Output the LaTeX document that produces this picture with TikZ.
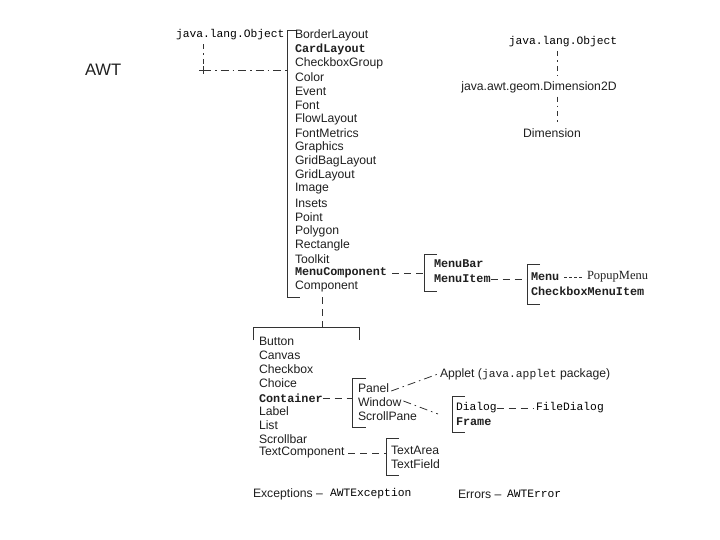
\documentclass[tikz,border=0pt]{standalone}
\usepackage{fontspec}
\setmainfont{Liberation Sans}
\newfontfamily\monof{Liberation Mono}
\newfontfamily\seriff{Liberation Serif}
\begin{document}
\begin{tikzpicture}[x=1pt,y=-1pt,
  every node/.style={inner sep=0pt,outer sep=0pt,text=black!88},
  sans/.style={anchor=west,font=\fontsize{12.2}{14}\selectfont},
  mono/.style={anchor=west,font=\fontsize{11.3}{13}\monof,text=black},
  monob/.style={anchor=west,font=\fontsize{11.8}{13}\monof\bfseries},
  brk/.style={draw=black!80,line width=0.8pt},
  conn/.style={draw=black!80,line width=0.8pt,dash pattern=on 7pt off 5pt},
  conndot/.style={draw=black!80,line width=0.8pt,dash pattern=on 8pt off 4pt on 1.5pt off 4pt},
  vdot/.style={draw=black!80,line width=0.8pt,dash pattern=on 5pt off 4pt on 1.5pt off 4pt},
  shortd/.style={draw=black!80,line width=0.8pt,dash pattern=on 3pt off 2pt}]
\useasboundingbox (0,0) rectangle (720,540);

\node[anchor=west,font=\fontsize{16.6}{18}\selectfont] (awt) at (85,70) {AWT};

% top-left tree
\node[mono] (obj1) at (176,35) {java.lang.Object};
\coordinate (j1) at (203,70);
\coordinate (b1t) at (287,30);
\coordinate (b1b) at (287,297);
\draw[brk] (297,30) -- (b1t) -- (b1b) -- (300,297);
\draw[vdot] ([yshift=-4pt]obj1.south -| j1) -- (j1);
\draw[conndot] (j1) -- (j1 -| b1t);
\draw[black!80,line width=0.8pt] (199,70) -- (207,70) (203,66) -- (203,74);

\foreach \t/\y/\n in {BorderLayout/35/a1,CheckboxGroup/63/a3,Color/77/a4,Event/91/a5,Font/105/a6,FlowLayout/119/a7,FontMetrics/133/a8,Graphics/147/a9,GridBagLayout/161/a10,GridLayout/175/a11,Image/189/a12,Insets/203/a13,Point/217/a14,Polygon/231/a15,Rectangle/245/a16,Toolkit/259/a17,Component/287/a19}
  \node[sans] (\n) at (295,\y) {\t};
\node[monob] (a2) at (295,49) {CardLayout};
\node[monob] (a18) at (295,273) {MenuComponent};

% menu branch
\coordinate (b2) at (424,273);
\draw[brk] (437,254) -- (424,254) -- (424,291) -- (437,291);
\draw[conn] ([xshift=5pt]a18.east) -- (b2);
\node[monob] (mbar) at (434,264) {MenuBar};
\node[monob] (mitem) at (434,279) {MenuItem};
\coordinate (b3) at (527,279);
\draw[brk] (540,264) -- (527,264) -- (527,304) -- (540,304);
\draw[conn] (mitem.east) -- (b3);
\node[monob] (menu) at (531,277) {Menu};
\node[monob] (cbmi) at (531,291) {CheckboxMenuItem};
\node[anchor=west,font=\fontsize{12.5}{14}\seriff] (popup) at (587,277) {PopupMenu};
\draw[shortd] ([xshift=5pt]menu.east) -- ([xshift=-4pt]popup.west);

% component branch
\coordinate (c0) at (322,327);
\draw[conn] (c0 |- b1b) -- (c0);
\draw[brk] (253,340) -- (253,327) -- (359,327) -- (359,340);
\foreach \t/\y/\n in {Button/341/c1,Canvas/355/c2,Checkbox/369/c3,Choice/383/c4,Label/411/c6,List/425/c7,Scrollbar/439/c8,TextComponent/453/c9}
  \node[sans] (\n) at (259,\y) {\t};
\node[monob] (c5) at (259,398) {Container};

% container branch
\coordinate (b4) at (352,398);
\draw[brk] (366,378) -- (352,378) -- (352,427) -- (366,427);
\draw[conn] (c5.east) -- (b4);
\node[sans] (panel) at (358,388) {Panel};
\node[sans] (window) at (358,402) {Window};
\node[sans] (spane) at (358,416) {ScrollPane};
\node[anchor=west,font=\fontsize{12.2}{14}\selectfont] (applet) at (440,374) {Applet ({\fontsize{11.3}{13}\monof java.applet} package)};
\draw[conndot] ([xshift=2pt,yshift=-3pt]panel.east) -- ([xshift=-2pt]applet.west);
\coordinate (wd) at (438,414);
\draw[conndot] ([xshift=2pt,yshift=1pt]window.east) -- (wd);

% dialog bracket
\draw[brk] (465,396) -- (452,396) -- (452,432) -- (465,432);
\node[mono] (dialog) at (456,408) {Dialog};
\node[monob] (frame) at (456,422) {Frame};
\node[mono] (fdialog) at (536,408) {FileDialog};
\draw[conn] (dialog.east) -- ([xshift=-3pt]fdialog.west);

% text component branch
\coordinate (b6) at (386,453);
\draw[brk] (399,438) -- (386,438) -- (386,475) -- (399,475);
\draw[conn] ([xshift=4pt]c9.east) -- (b6);
\node[sans] (tarea) at (391,450) {TextArea};
\node[sans] (tfield) at (391,464) {TextField};

% exceptions / errors
\node[sans] (exc) at (253,494) {Exceptions --};
\node[mono] (awtexc) at (330,494) {AWTException};
\node[sans] (err) at (458,494) {Errors --};
\node[mono] (awterr) at (507,494) {AWTError};

% right tree
\node[mono,anchor=center] (obj2) at (563,42) {java.lang.Object};
\node[sans,anchor=center] (dim2d) at (539,87) {java.awt.geom.Dimension2D};
\node[sans,anchor=center] (dim) at (552,133) {Dimension};
\coordinate (rx) at (557,0);
\draw[vdot] ([yshift=-4pt]obj2.south -| rx) -- ([yshift=4pt]dim2d.north -| rx);
\draw[vdot] ([yshift=-4pt]dim2d.south -| rx) -- ([yshift=4pt]dim.north -| rx);
\end{tikzpicture}
\end{document}
